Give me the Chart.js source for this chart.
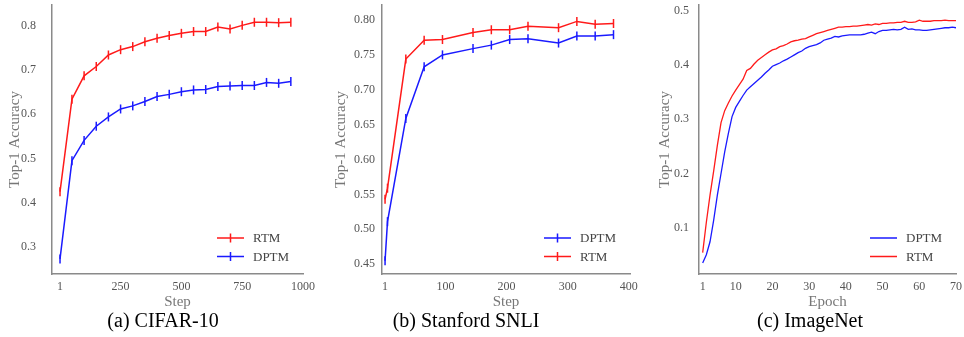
<!DOCTYPE html>
<html>
<head>
<meta charset="utf-8">
<script src="https://cdn.jsdelivr.net/npm/chart.js@4.4.1/dist/chart.umd.min.js"></script>
<style>
  body { margin: 0; background: #fff; }
  #wrap { position: relative; width: 964px; height: 337px; overflow: hidden; }
  canvas { position: absolute; top: 0; }
  .cap { position: absolute; top: 309px; font-family: "Liberation Serif", serif; font-size: 20px; color: #000; transform: translateX(-50%); white-space: nowrap; }
</style>
</head>
<body>
<div id="wrap">
  <canvas id="cifarChart" width="320" height="337" style="left:0px"></canvas>
  <canvas id="snliChart" width="320" height="337" style="left:320px"></canvas>
  <canvas id="imagenetChart" width="324" height="337" style="left:640px"></canvas>
  <div class="cap" style="left:163px">(a) CIFAR-10</div>
  <div class="cap" style="left:466px">(b) Stanford SNLI</div>
  <div class="cap" style="left:810px">(c) ImageNet</div>
</div>
<script>
// (a) CIFAR-10
const cifarSteps = [1, 50, 100, 150, 200, 250, 300, 350, 400, 450, 500, 550, 600, 650, 700, 750, 800, 850, 900, 950];
const cifarRtm = [0.425, 0.634, 0.687, 0.708, 0.734, 0.746, 0.753, 0.764, 0.772, 0.778, 0.783, 0.787, 0.787, 0.797, 0.793, 0.801, 0.808, 0.808, 0.807, 0.808];
const cifarDptm = [0.273, 0.495, 0.541, 0.573, 0.594, 0.612, 0.619, 0.629, 0.640, 0.645, 0.651, 0.655, 0.656, 0.663, 0.664, 0.665, 0.665, 0.672, 0.670, 0.674];
const cifarXTicks = [1, 250, 500, 750, 1000];
const cifarYTicks = [0.3, 0.4, 0.5, 0.6, 0.7, 0.8];

// (b) Stanford SNLI
const snliSteps = [1, 5, 35, 65, 95, 145, 175, 205, 235, 285, 315, 345, 375];
const snliDptm = [0.455, 0.511, 0.659, 0.733, 0.750, 0.759, 0.764, 0.772, 0.773, 0.767, 0.777, 0.777, 0.779];
const snliRtm = [0.543, 0.559, 0.744, 0.771, 0.772, 0.782, 0.786, 0.786, 0.791, 0.789, 0.798, 0.794, 0.795];
const snliXTicks = [1, 100, 200, 300, 400];
const snliYTicks = [0.45, 0.50, 0.55, 0.60, 0.65, 0.70, 0.75, 0.80];

// (c) ImageNet
const imagenetEpochs = [1, 2, 3, 4, 5, 6, 7, 8, 9, 10, 11, 12, 13, 14, 15, 16, 17, 18, 19, 20,
  21, 22, 23, 24, 25, 26, 27, 28, 29, 30, 31, 32, 33, 34, 35, 36, 37, 38, 39, 40,
  41, 42, 43, 44, 45, 46, 47, 48, 49, 50, 51, 52, 53, 54, 55, 56, 57, 58, 59, 60,
  61, 62, 63, 64, 65, 66, 67, 68, 69, 70];
const imagenetDptm = [0.035, 0.050, 0.074, 0.114, 0.160, 0.200, 0.240, 0.274, 0.305, 0.322,
  0.333, 0.344, 0.354, 0.360, 0.366, 0.372, 0.378, 0.385, 0.391, 0.398,
  0.401, 0.404, 0.408, 0.411, 0.415, 0.419, 0.423, 0.426, 0.431, 0.434,
  0.436, 0.438, 0.441, 0.446, 0.448, 0.450, 0.453, 0.452, 0.454, 0.455,
  0.456, 0.456, 0.456, 0.456, 0.457, 0.459, 0.461, 0.458, 0.462, 0.464,
  0.464, 0.465, 0.466, 0.465, 0.466, 0.470, 0.466, 0.467, 0.465, 0.465,
  0.464, 0.464, 0.465, 0.466, 0.467, 0.468, 0.469, 0.469, 0.470, 0.469];
const imagenetRtm = [0.054, 0.110, 0.160, 0.205, 0.252, 0.294, 0.316, 0.330, 0.343, 0.354,
  0.364, 0.374, 0.390, 0.394, 0.402, 0.409, 0.414, 0.419, 0.424, 0.428,
  0.430, 0.434, 0.436, 0.439, 0.443, 0.445, 0.446, 0.448, 0.449, 0.452,
  0.455, 0.458, 0.460, 0.462, 0.464, 0.466, 0.468, 0.470, 0.470, 0.471,
  0.471, 0.472, 0.472, 0.473, 0.474, 0.475, 0.474, 0.476, 0.475, 0.477,
  0.477, 0.478, 0.478, 0.479, 0.479, 0.481, 0.479, 0.479, 0.480, 0.483,
  0.481, 0.481, 0.481, 0.482, 0.482, 0.482, 0.483, 0.482, 0.482, 0.482];
const imagenetXTicks = [1, 10, 20, 30, 40, 50, 60, 70];
const imagenetYTicks = [0.1, 0.2, 0.3, 0.4, 0.5];

const RED = '#ff1a1a';
const BLUE = '#1a1aff';
const SERIF = "'Liberation Serif', 'DejaVu Serif', serif";

function pts(xs, ys) {
    return xs.map(function (x, i) { return { x: x, y: ys[i] }; });
}

// legend in the lower right corner of the plot area
const cornerLegend = {
    id: 'cornerLegend',
    afterDraw(chart, args, opts) {
        const ctx = chart.ctx;
        const area = chart.chartArea;
        ctx.save();
        chart.data.datasets.forEach(function (ds, i) {
            const y = area.bottom - 36 + i * 18.5;
            const x0 = area.right - 86, x1 = area.right - 59;
            ctx.strokeStyle = ds.borderColor;
            ctx.lineWidth = 1.5;
            ctx.beginPath();
            ctx.moveTo(x0, y);
            ctx.lineTo(x1, y);
            if (opts.bars) {
                ctx.moveTo((x0 + x1) / 2, y - 4.5);
                ctx.lineTo((x0 + x1) / 2, y + 4.5);
            }
            ctx.stroke();
            ctx.fillStyle = '#444';
            ctx.font = '13px ' + SERIF;
            ctx.textBaseline = 'middle';
            ctx.fillText(ds.label, area.right - 50, y + 1);
        });
        ctx.restore();
    }
};

function makePanel(id, p) {
    const ctx = document.getElementById(id).getContext('2d');
    new Chart(ctx, {
        type: 'line',
        data: {
            datasets: p.series.map(function (s) {
                return {
                    label: s.label,
                    data: pts(p.xs, s.ys),
                    borderColor: s.color,
                    backgroundColor: s.color,
                    borderWidth: p.bars ? 1.5 : 1.3,
                    tension: 0,
                    pointStyle: 'line',
                    rotation: 90,
                    pointRadius: p.bars ? 4.5 : 0,
                    pointBorderWidth: 1.5,
                    pointHoverRadius: 0
                };
            })
        },
        options: {
            responsive: false,
            devicePixelRatio: 1,
            animation: false,
            layout: { autoPadding: false, padding: { left: 0, top: 5, right: p.padRight, bottom: 0 } },
            plugins: {
                legend: { display: false },
                tooltip: { enabled: false },
                cornerLegend: { bars: p.bars }
            },
            scales: {
                x: {
                    type: 'linear',
                    min: p.xMin,
                    max: p.xMax,
                    afterBuildTicks: function (sc) { sc.ticks = p.xTicks.map(function (v) { return { value: v }; }); },
                    afterFit: function (sc) { sc.height = 63; sc.paddingLeft = 0; sc.paddingRight = 0; },
                    grid: { display: false, drawTicks: false },
                    border: { display: true, color: '#8a8a8a', width: 1.5 },
                    ticks: {
                        color: '#555', font: { family: SERIF, size: 12 }, padding: 6, maxRotation: 0, autoSkip: false,
                        callback: function (v) { return String(v); }
                    },
                    title: { display: true, text: p.xTitle, color: '#777', font: { family: SERIF, size: 15 }, padding: { top: 0, bottom: 26 } }
                },
                y: {
                    min: p.yMin,
                    max: p.yMax,
                    afterBuildTicks: function (sc) { sc.ticks = p.yTicks.map(function (v) { return { value: v }; }); },
                    afterFit: function (sc) { sc.width = p.yWidth; sc.paddingTop = 0; sc.paddingBottom = 0; },
                    grid: { display: false, drawTicks: false },
                    border: { display: true, color: '#8a8a8a', width: 1.5 },
                    ticks: {
                        color: '#555', font: { family: SERIF, size: 12 }, padding: p.yPad, autoSkip: false,
                        callback: function (v) { return v.toFixed(p.yDigits); }
                    },
                    title: { display: true, text: 'Top-1 Accuracy', color: '#777', font: { family: SERIF, size: 15 }, padding: { top: p.yTitlePad, bottom: 0 } }
                }
            }
        },
        plugins: [cornerLegend]
    });
}

makePanel('cifarChart', {
    xs: cifarSteps, bars: true,
    series: [
        { label: 'RTM', ys: cifarRtm, color: RED },
        { label: 'DPTM', ys: cifarDptm, color: BLUE }
    ],
    xMin: -32, xMax: 1000, xTicks: cifarXTicks, xTitle: 'Step',
    yMin: 0.239, yMax: 0.847, yTicks: cifarYTicks, yDigits: 1,
    yWidth: 52, yPad: 16, yTitlePad: 6, padRight: 17
});

makePanel('snliChart', {
    xs: snliSteps, bars: true,
    series: [
        { label: 'DPTM', ys: snliDptm, color: BLUE },
        { label: 'RTM', ys: snliRtm, color: RED }
    ],
    xMin: -4, xMax: 402, xTicks: snliXTicks, xTitle: 'Step',
    yMin: 0.436, yMax: 0.8215, yTicks: snliYTicks, yDigits: 2,
    yWidth: 62, yPad: 7, yTitlePad: 12, padRight: 10
});

makePanel('imagenetChart', {
    xs: imagenetEpochs, bars: false,
    series: [
        { label: 'DPTM', ys: imagenetDptm, color: BLUE },
        { label: 'RTM', ys: imagenetRtm, color: RED }
    ],
    xMin: 0, xMax: 70, xTicks: imagenetXTicks, xTitle: 'Epoch',
    yMin: 0.0145, yMax: 0.511, yTicks: imagenetYTicks, yDigits: 1,
    yWidth: 59, yPad: 10, yTitlePad: 16, padRight: 8
});
</script>
</body>
</html>
